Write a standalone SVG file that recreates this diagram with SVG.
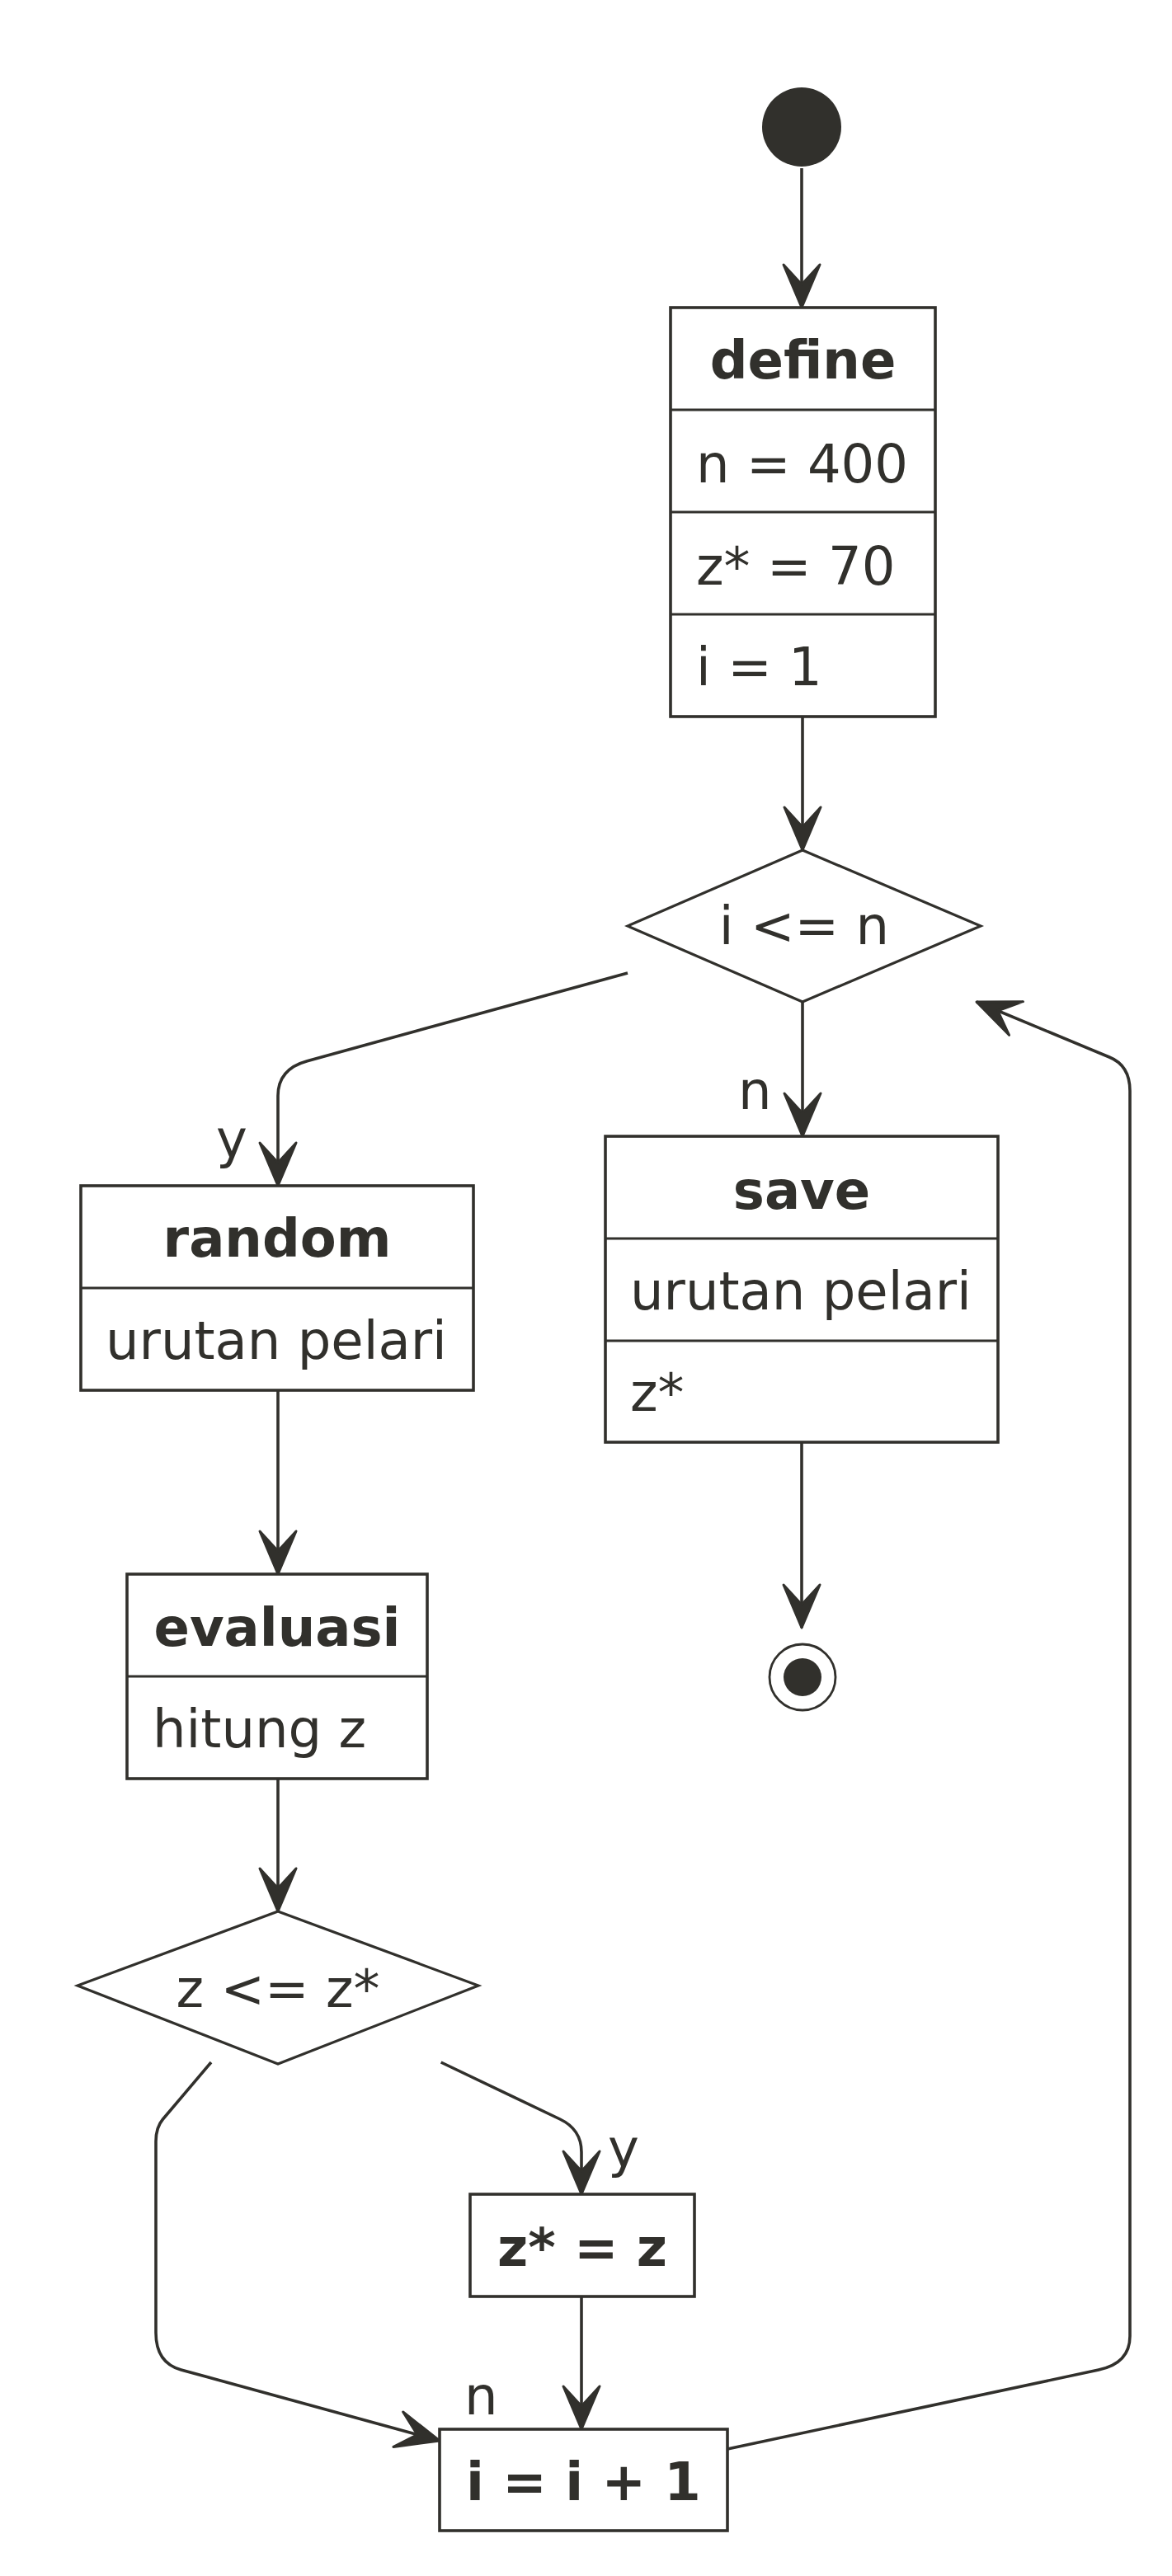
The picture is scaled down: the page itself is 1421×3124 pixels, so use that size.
<svg xmlns="http://www.w3.org/2000/svg" width="1421" height="3124" viewBox="0 0 1421 3124">
<style>
.box{fill:#FFFFFF;stroke:#31302C;stroke-width:3.6}
.sep{stroke:#31302C;stroke-width:3}
.dia{fill:#FFFFFF;stroke:#31302C;stroke-width:3.2}
.con{fill:none;stroke:#31302C;stroke-width:3.6}
.t{font-family:"DejaVu Sans",sans-serif;font-size:64px;fill:#31302C}
.b{font-weight:bold;text-anchor:middle}
.c{text-anchor:middle}
</style>
<defs>
<marker id="arr" markerUnits="userSpaceOnUse" orient="auto" markerWidth="1" markerHeight="1" refX="0" refY="0" overflow="visible">
<polygon points="0,0 -52,-22 -28,0 -52,22" fill="#31302C" stroke="#31302C" stroke-width="3" stroke-linejoin="round"/>
</marker>
</defs>
<rect width="1421" height="3124" fill="#FFFFFF"/>
<g id="connectors">
<path class="con" d="M972,204 L972,373" marker-end="url(#arr)"/>
<path class="con" d="M973,869 L973,1031" marker-end="url(#arr)"/>
<path class="con" d="M973,1215 L973,1378" marker-end="url(#arr)"/>
<path class="con" d="M761,1180 L372.5,1286.7 Q337,1296.4 337,1329 L337,1438" marker-end="url(#arr)"/>
<path class="con" d="M972,1749 L972,1974" marker-end="url(#arr)"/>
<path class="con" d="M337,1686 L337,1909" marker-end="url(#arr)"/>
<path class="con" d="M337,2157 L337,2318" marker-end="url(#arr)"/>
<path class="con" d="M534.7,2501 L679,2570 Q705,2582.4 705,2610 L705,2661" marker-end="url(#arr)"/>
<path class="con" d="M256,2501 L197.5,2570 Q189,2580 189,2597 L189,2829 Q189,2865.5 219.6,2874 L533,2960" marker-end="url(#arr)"/>
<path class="con" d="M705,2785 L705,2946" marker-end="url(#arr)"/>
<path class="con" d="M882,2970 L1332,2874 Q1370,2866 1370,2833 L1370,1323 Q1370,1292 1345,1282 L1184,1215" marker-end="url(#arr)"/>
<text class="t" x="895" y="1345">n</text>
<text class="t" x="262" y="1404">y</text>
<text class="t" x="737" y="2628">y</text>
<text class="t" x="563" y="2928">n</text>
</g>
<g id="start">
<circle cx="972" cy="154" r="48" fill="#31302C"/>
</g>
<g id="define">
<rect class="box" x="813" y="373" width="321" height="496"/>
<line class="sep" x1="813" y1="497" x2="1134" y2="497"/>
<line class="sep" x1="813" y1="621" x2="1134" y2="621"/>
<line class="sep" x1="813" y1="745" x2="1134" y2="745"/>
<text class="t b" x="973.5" y="459">define</text>
<text class="t" x="844" y="585">n = 400</text>
<text class="t" x="844" y="709">z* = 70</text>
<text class="t" x="844" y="831">i = 1</text>
</g>
<g id="cond1">
<polygon class="dia" points="973,1031 1189,1123 973,1215 761,1123"/>
<text class="t c" x="975" y="1145">i &lt;= n</text>
</g>
<g id="save">
<rect class="box" x="734" y="1378" width="476" height="371"/>
<line class="sep" x1="734" y1="1502" x2="1210" y2="1502"/>
<line class="sep" x1="734" y1="1626" x2="1210" y2="1626"/>
<text class="t b" x="972" y="1466">save</text>
<text class="t" x="764" y="1588">urutan pelari</text>
<text class="t" x="764" y="1711">z*</text>
</g>
<g id="end">
<circle cx="973" cy="2034" r="40" fill="#FFFFFF" stroke="#31302C" stroke-width="2.8"/>
<circle cx="973" cy="2034" r="23" fill="#31302C"/>
</g>
<g id="random">
<rect class="box" x="98" y="1438" width="476" height="248"/>
<line class="sep" x1="98" y1="1562" x2="574" y2="1562"/>
<text class="t b" x="336" y="1524">random</text>
<text class="t" x="128" y="1648">urutan pelari</text>
</g>
<g id="evaluasi">
<rect class="box" x="154" y="1909" width="364" height="248"/>
<line class="sep" x1="154" y1="2033" x2="518" y2="2033"/>
<text class="t b" x="336" y="1996">evaluasi</text>
<text class="t" x="185" y="2119">hitung z</text>
</g>
<g id="cond2">
<polygon class="dia" points="337,2318 580,2408 337,2503 94,2408"/>
<text class="t c" x="337" y="2434">z &lt;= z*</text>
</g>
<g id="update">
<rect class="box" x="570" y="2661" width="272" height="124"/>
<text class="t b" x="706" y="2748">z* = z</text>
</g>
<g id="increment">
<rect class="box" x="533" y="2946" width="349" height="123"/>
<text class="t b" x="707.5" y="3032">i = i + 1</text>
</g>
</svg>
